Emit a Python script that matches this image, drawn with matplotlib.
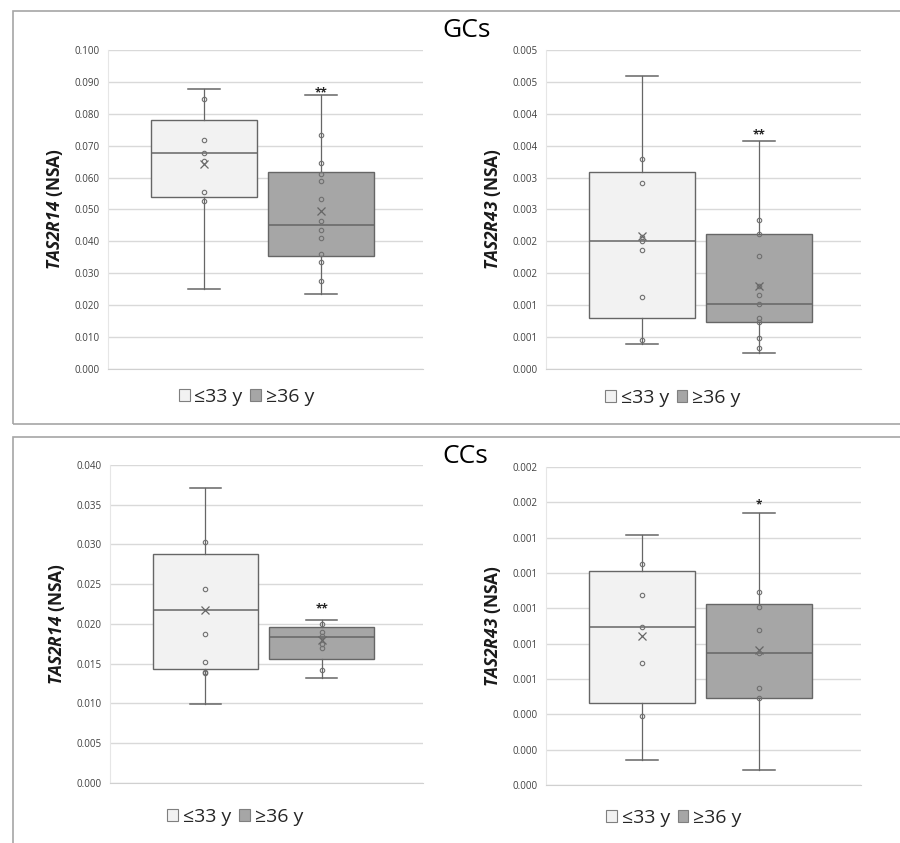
import numpy as np
import matplotlib
matplotlib.use('Agg')
import matplotlib.pyplot as plt
from matplotlib.patches import Patch, Rectangle

plt.rcParams['font.family'] = ['Open Sans', 'DejaVu Sans']
plt.rcParams['mathtext.fontset'] = 'custom'
plt.rcParams['mathtext.bfit'] = 'Open Sans:italic:bold'

groups = ['≤33 y', '≥36 y']
colors = ['#f2f2f2', '#a6a6a6']

# box stats: whislo, q1, median, q3, whishi, mean
gc14_young = [0.0250, 0.0540, 0.0677, 0.0781, 0.0878, 0.0643]
gc14_old = [0.0234, 0.0355, 0.0450, 0.0619, 0.0858, 0.0495]
gc14_young_pts = [0.0845, 0.0718, 0.0677, 0.0652, 0.0556, 0.0527]
gc14_old_pts = [0.0735, 0.0647, 0.0612, 0.0589, 0.0534, 0.0465, 0.0436,
                0.0410, 0.0359, 0.0336, 0.0275]

gc43_young = [0.000392, 0.000794, 0.002011, 0.003093, 0.004598, 0.002085]
gc43_old = [0.000246, 0.000742, 0.001019, 0.002116, 0.003568, 0.001301]
gc43_young_pts = [0.003297, 0.002915, 0.002074, 0.002011, 0.001870,
                  0.001129, 0.000455]
gc43_old_pts = [0.002335, 0.002116, 0.001771, 0.001301, 0.001160, 0.001019,
                0.000805, 0.000742, 0.000491, 0.000324]

cc14_young = [0.00988, 0.01432, 0.02170, 0.02877, 0.03715, 0.02178]
cc14_old = [0.01319, 0.01558, 0.01835, 0.01960, 0.02048, 0.0180]
cc14_young_pts = [0.03028, 0.02442, 0.01876, 0.01525, 0.01395, 0.01382]
cc14_old_pts = [0.02002, 0.01893, 0.01843, 0.01751, 0.01696, 0.01424]

cc43_young = [0.0001432, 0.0004617, 0.000895, 0.001210, 0.0014135, 0.0008425]
cc43_old = [0.0000848, 0.000494, 0.000748, 0.001027, 0.001540, 0.000763]
cc43_young_pts = [0.0012495, 0.001076, 0.000893, 0.000690, 0.000388]
cc43_old_pts = [0.001095, 0.001008, 0.000880, 0.000748, 0.0005466, 0.000490]

# y ticks and their printed labels
gc14_ticks = np.arange(0, 0.1001, 0.01)
gc43_ticks = np.arange(0, 0.00501, 0.0005)
gc43_labels = ['0.000', '0.001', '0.001', '0.002', '0.002', '0.003',
               '0.003', '0.004', '0.004', '0.005', '0.005']
cc14_ticks = np.arange(0, 0.04001, 0.005)
cc43_ticks = np.arange(0, 0.00181, 0.0002)
cc43_labels = ['0.000', '0.000', '0.000', '0.001', '0.001', '0.001',
               '0.001', '0.001', '0.002', '0.002']

sig_gc14, sig_gc43, sig_cc14, sig_cc43 = '**', '**', '**', '*'

fig = plt.figure(figsize=(9, 8.43), dpi=100)

# panel frames
fig.add_artist(Rectangle((0.0144, 0.497), 1.2, 0.49, transform=fig.transFigure,
                         fill=False, edgecolor='#a6a6a6', lw=1.2))
fig.add_artist(Rectangle((0.0144, -0.2), 1.2, 0.6816, transform=fig.transFigure,
                         fill=False, edgecolor='#a6a6a6', lw=1.2))

fig.text(0.518, 0.964, 'GCs', fontsize=19, ha='center', va='center')
fig.text(0.517, 0.459, 'CCs', fontsize=19, ha='center', va='center')


def panel(rect, young, old, ypts, opts, ticks, labels, gene, sig, sig_off, leg_xy):
    ax = fig.add_axes(rect)
    stats = []
    for s in (young, old):
        stats.append(dict(whislo=s[0], q1=s[1], med=s[2], q3=s[3],
                          whishi=s[4], mean=s[5]))
    edge = '#666666'
    bp = ax.bxp(stats, positions=[1, 2], widths=0.906, patch_artist=True,
                showmeans=True, showfliers=False, capwidths=0.27,
                boxprops=dict(edgecolor=edge, linewidth=1.0),
                medianprops=dict(color=edge, linewidth=1.1),
                whiskerprops=dict(color=edge, linewidth=0.9),
                capprops=dict(color=edge, linewidth=1.1),
                meanprops=dict(marker='x', markeredgecolor='#666666',
                               markersize=6, markeredgewidth=0.9))
    for patch, c in zip(bp['boxes'], colors):
        patch.set_facecolor(c)
    for i, pts in enumerate((ypts, opts)):
        ax.plot([i + 1] * len(pts), pts, 'o', markersize=3.2,
                markerfacecolor='none', markeredgecolor='#707070',
                markeredgewidth=0.8, zorder=4)
    ax.annotate(sig, (2, old[4]), xytext=(0, sig_off), textcoords='offset points',
                ha='center', va='center', fontsize=8.5, color='#222222',
                fontweight='bold')

    ax.set_xlim(0.179, 2.872)
    ax.set_ylim(0, ticks[-1])
    ax.set_yticks(ticks)
    if labels is None:
        ax.set_yticklabels(['%.3f' % t for t in ticks])
    else:
        ax.set_yticklabels(labels)
    ax.set_xticks([])
    ax.tick_params(axis='y', length=0, pad=6, labelsize=7, labelcolor='#404040')
    ax.grid(axis='y', color='#d9d9d9', linewidth=1.0)
    ax.set_axisbelow(True)
    for sp in ('top', 'right'):
        ax.spines[sp].set_visible(False)
    ax.spines['left'].set_color('#e6e6e6')
    ax.spines['bottom'].set_color('#d0d0d0')
    ax.set_ylabel(r'$\mathbfit{' + gene + '}$ (NSA)', fontsize=12.5,
                  fontweight='bold', color='#1a1a1a')
    ax.yaxis.set_label_coords(-0.137, 0.5)

    handles = [Patch(facecolor=c, edgecolor='#7f7f7f', linewidth=0.8) for c in colors]
    ax.legend(handles, groups, loc='center', bbox_to_anchor=leg_xy, ncol=2,
              frameon=False, fontsize=14, handlelength=0.55, handleheight=0.55,
              handletextpad=0.25, columnspacing=0.4, labelcolor='#262626')
    return ax


panel([0.12, 0.5623, 0.35, 0.3784], gc14_young, gc14_old, gc14_young_pts,
      gc14_old_pts, gc14_ticks, None, 'TAS2R14', sig_gc14, 2, (0.44, -0.088))
panel([0.6067, 0.5623, 0.35, 0.3784], gc43_young, gc43_old, gc43_young_pts,
      gc43_old_pts, gc43_ticks, gc43_labels, 'TAS2R43', sig_gc43, 5, (0.403, -0.091))
panel([0.1222, 0.0712, 0.3478, 0.3772], cc14_young, cc14_old, cc14_young_pts,
      cc14_old_pts, cc14_ticks, None, 'TAS2R14', sig_cc14, 8, (0.40, -0.107))
panel([0.6067, 0.0688, 0.35, 0.3772], cc43_young, cc43_old, cc43_young_pts,
      cc43_old_pts, cc43_ticks, cc43_labels, 'TAS2R43', sig_cc43, 6, (0.406, -0.104))

fig.savefig('out.png', dpi=100, facecolor='white')
